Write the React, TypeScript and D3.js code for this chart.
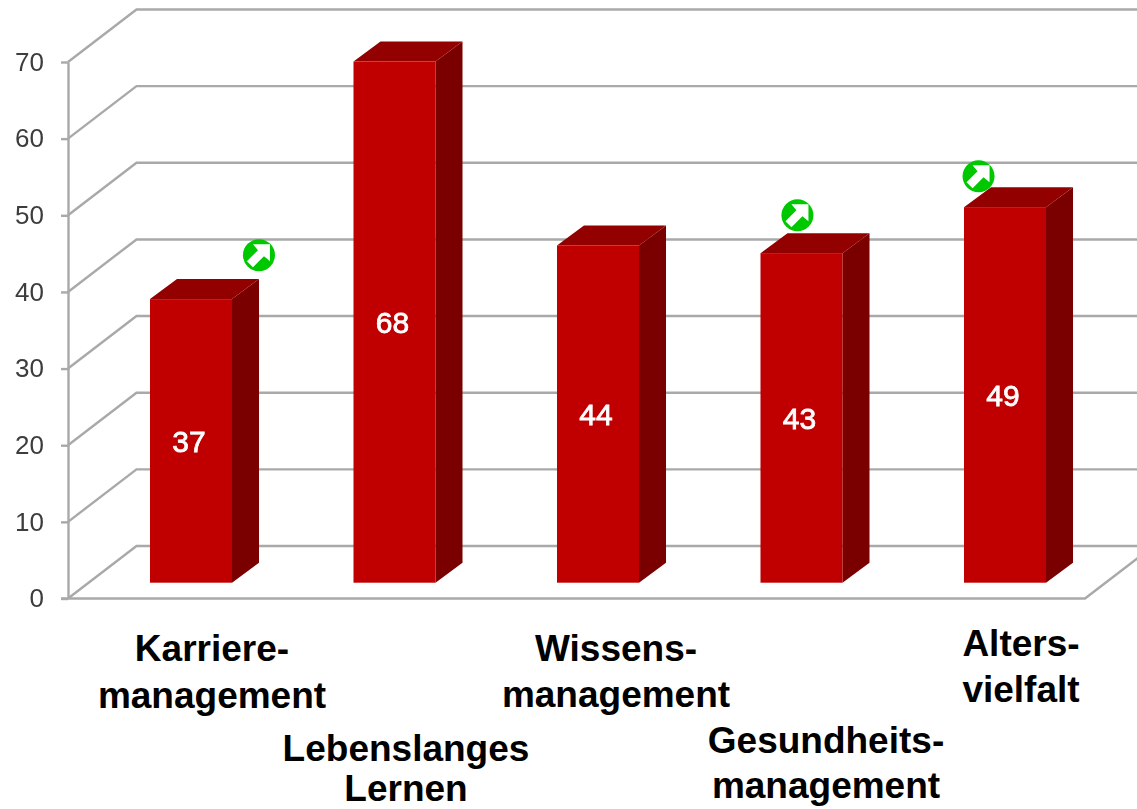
import { useEffect, useRef } from 'react';
import * as d3 from 'd3';

const categories = ['Karriere', 'Lebenslanges', 'Wissens', 'Gesundheits', 'Alters'];
const values = [37, 68, 44, 43, 49];
const yTicks = [0, 10, 20, 30, 40, 50, 60, 70];

// label lines, one list per category
const labelLines = [
    ['Karriere-', 'management'],
    ['Lebenslanges', 'Lernen'],
    ['Wissens-', 'management'],
    ['Gesundheits-', 'management'],
    ['Alters-', 'vielfalt'],
];

// green arrows: position in chart units (category index, axis value)
const arrowIndex = [0.334, 2.98, 3.87];
const arrowValue = [44.8, 50, 55.1];

const width = 1137;
const height = 809;

function App() {
    const svgRef = useRef<SVGSVGElement | null>(null);

    useEffect(() => {
        if (!svgRef.current) return;

        const svg = d3.select(svgRef.current);
        svg.selectAll('*').remove();

        const y = d3.scaleLinear().domain([0, 70]).range([598.5, 62]);
        const x = d3.scaleBand<string>()
            .domain(categories)
            .range([89.25, 1106.75])
            .paddingInner(0.597)
            .paddingOuter(0.2985);
        const arrowX = d3.scaleLinear().domain([0, 4]).range([191, 1005]);

        const wallX = 68.5;
        const wallY = -52.5;
        const barShift = -15.8;
        const depthX = 27;
        const depthY = -20;
        const gridColor = '#a9a9a9';

        const defs = svg.append('defs');
        defs.append('filter')
            .attr('id', 'soft')
            .append('feGaussianBlur')
            .attr('stdDeviation', 0.55);

        const chart = svg.append('g').attr('filter', 'url(#soft)');

        const line = d3.line<[number, number]>();

        // gridlines running over the side wall and the back wall
        chart.selectAll('path.grid')
            .data(yTicks)
            .join('path')
            .attr('class', 'grid')
            .attr('fill', 'none')
            .attr('stroke', gridColor)
            .attr('stroke-width', 2.4)
            .attr('d', (t) => line([
                [68, y(t)],
                [68 + wallX, y(t) + wallY],
                [width + 2, y(t) + wallY],
            ]));

        // floor front edge and right side
        chart.append('path')
            .attr('fill', 'none')
            .attr('stroke', gridColor)
            .attr('stroke-width', 2.4)
            .attr('d', line([
                [61, y(0)],
                [1085, y(0)],
                [1085 + wallX, y(0) + wallY],
            ]));

        // y axis
        const axis = chart.append('g')
            .attr('transform', 'translate(68,0)')
            .call(d3.axisLeft(y).tickValues(yTicks).tickSize(7).tickPadding(17).tickSizeOuter(0));
        axis.select('.domain').attr('stroke', gridColor).attr('stroke-width', 2.4);
        axis.selectAll('.tick line').attr('stroke', gridColor).attr('stroke-width', 2.4);
        axis.selectAll('.tick text')
            .attr('fill', '#3c3c3c')
            .attr('font-family', '"Liberation Sans", Arial, sans-serif')
            .attr('font-size', 26);

        // bars
        const bars = chart.selectAll('g.bar')
            .data(categories)
            .join('g')
            .attr('class', 'bar');

        const bw = x.bandwidth();
        const left = (c: string) => x(c) as number;
        const top = (i: number) => y(values[i]) + barShift;
        const bottom = y(0) + barShift;

        bars.append('path')
            .attr('fill', '#7a0000')
            .attr('d', (c, i) => line([
                [left(c) + bw, top(i)],
                [left(c) + bw + depthX, top(i) + depthY],
                [left(c) + bw + depthX, bottom + depthY],
                [left(c) + bw, bottom],
            ]) + 'Z');

        bars.append('path')
            .attr('fill', '#930000')
            .attr('d', (c, i) => line([
                [left(c), top(i)],
                [left(c) + depthX, top(i) + depthY],
                [left(c) + bw + depthX, top(i) + depthY],
                [left(c) + bw, top(i)],
            ]) + 'Z');

        bars.append('rect')
            .attr('fill', '#c00000')
            .attr('x', (c) => left(c))
            .attr('y', (c, i) => top(i))
            .attr('width', bw)
            .attr('height', (c, i) => bottom - top(i));

        bars.append('text')
            .attr('x', (c) => left(c) + bw / 2 - 2)
            .attr('y', (c, i) => (top(i) + bottom) / 2)
            .attr('dy', '0.36em')
            .attr('text-anchor', 'middle')
            .attr('fill', '#ffffff')
            .attr('stroke', '#ffffff')
            .attr('stroke-width', 0.8)
            .attr('font-family', '"Liberation Sans", Arial, sans-serif')
            .attr('font-size', 30)
            .text((c, i) => values[i]);

        // trend arrows
        const arrows = chart.selectAll('g.arrow')
            .data(arrowIndex)
            .join('g')
            .attr('class', 'arrow')
            .attr('transform', (d, i) => `translate(${arrowX(d)},${y(arrowValue[i])})`);

        arrows.append('circle').attr('r', 16).attr('fill', '#00c800');
        arrows.append('path')
            .attr('fill', '#ffffff')
            .attr('d', 'M11,-11 L11,6 L5,1 L-6,12 L-12,6 L-1,-5 L-6,-11 Z');

        // category labels sit at hand-placed spots in the original
        const labelX = [212, 406, 616, 826, 1021];
        const labelY = [661, 761, 661, 753, 656];
        const labelGap = [47, 40, 46, 45, 46];

        const labels = svg.selectAll('text.cat')
            .data(labelLines)
            .join('text')
            .attr('class', 'cat')
            .attr('text-anchor', 'middle')
            .attr('fill', '#000000')
            .attr('font-family', '"Liberation Sans", Arial, sans-serif')
            .attr('font-weight', 'bold')
            .attr('font-size', 37);

        labels.selectAll('tspan')
            .data((d, i) => d.map((t, j) => ({ t, j, i })))
            .join('tspan')
            .attr('x', (d) => labelX[d.i])
            .attr('y', (d) => labelY[d.i] + d.j * labelGap[d.i])
            .text((d) => d.t);
    }, []);

    return (
        <svg
            ref={svgRef}
            width={width}
            height={height}
            style={{ position: 'absolute', left: 0, top: 0, background: '#ffffff' }}
        />
    );
}

export default App;
